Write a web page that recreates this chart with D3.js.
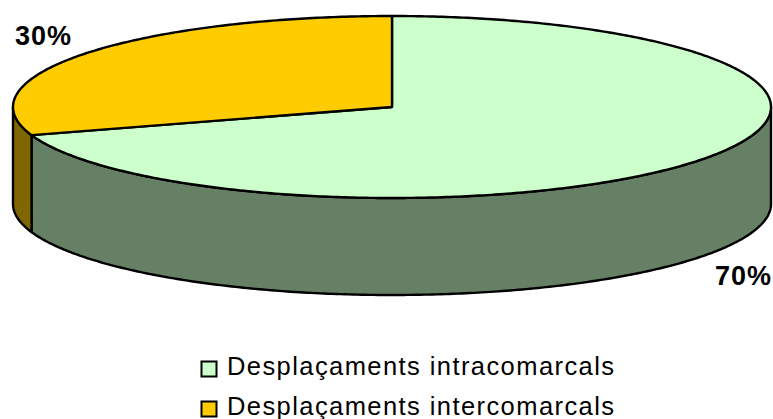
<!DOCTYPE html>
<html>
<head>
<meta charset="utf-8">
<script src="https://cdn.jsdelivr.net/npm/d3@7"></script>
<style>
  html, body { margin: 0; padding: 0; background: #fff; }
  svg { display: block; }
  text { font-family: "Liberation Sans", Arial, sans-serif; fill: #000; }
</style>
</head>
<body>
<div id="chart"></div>
<script>
// chart values
var categories = ["Desplaçaments intracomarcals", "Desplaçaments intercomarcals"];
var values = [70, 30];
var topColors = ["#ccffcc", "#ffcc00"];
var sideColors = ["#668066", "#806600"];

var w = 773;
var h = 419;

// ellipse of the pie top, and how far the wall drops
var cx = 392, cy = 107, rx = 379, ry = 91, depth = 97;

var svg = d3.select("#chart").append("svg")
    .attr("width", w)
    .attr("height", h);

// slices run clockwise from 12 o'clock
var slices = d3.pie().sort(null).value(function (d) { return d; })(values);

// flatten a pie angle onto the tilted ellipse
var xPos = d3.scaleLinear().domain([-1, 1]).range([cx - rx, cx + rx]);
var yPos = d3.scaleLinear().domain([-1, 1]).range([cy - ry, cy + ry]);
function px(a) { return xPos(Math.sin(a)); }
function py(a, drop) { return yPos(-Math.cos(a)) + (drop || 0); }

var line = d3.line();

function rim(a0, a1, drop) {
    var n = Math.max(2, Math.ceil((a1 - a0) * 90));
    return d3.range(n + 1).map(function (i) {
        var a = a0 + (a1 - a0) * i / n;
        return [px(a), py(a, drop)];
    });
}

// walls: only the front half of the ellipse shows (90 to 270 degrees)
var wallStart = Math.PI / 2, wallEnd = Math.PI * 1.5;
slices.forEach(function (s, i) {
    var a0 = Math.max(s.startAngle, wallStart);
    var a1 = Math.min(s.endAngle, wallEnd);
    if (a1 <= a0) return;
    var pts = rim(a0, a1, 0).concat(rim(a0, a1, depth).reverse());
    svg.append("path")
        .attr("d", line(pts) + "Z")
        .attr("fill", sideColors[i])
        .attr("stroke", "#000")
        .attr("stroke-width", 2.4)
        .attr("stroke-linejoin", "round");
});

// top faces
slices.forEach(function (s, i) {
    var pts = [[cx, cy]].concat(rim(s.startAngle, s.endAngle, 0));
    svg.append("path")
        .attr("d", line(pts) + "Z")
        .attr("fill", topColors[i])
        .attr("stroke", "#000")
        .attr("stroke-width", 2.4)
        .attr("stroke-linejoin", "round");
});

// percentage labels
svg.append("text")
    .attr("x", 15).attr("y", 45)
    .attr("font-size", 27).attr("font-weight", "bold")
    .attr("textLength", 56)
    .text(values[1] + "%");
svg.append("text")
    .attr("x", 715).attr("y", 285)
    .attr("font-size", 27).attr("font-weight", "bold")
    .attr("textLength", 56)
    .text(values[0] + "%");

// legend
var legendY = d3.scaleBand().domain(categories).range([347, 427]);
var legend = svg.selectAll("g.legend")
    .data(categories)
    .enter().append("g")
    .attr("class", "legend")
    .attr("transform", function (d) { return "translate(0," + legendY(d) + ")"; });

legend.append("rect")
    .attr("x", 201.5).attr("y", 14.5)
    .attr("width", 15).attr("height", 15)
    .attr("fill", function (d, i) { return topColors[i]; })
    .attr("stroke", "#000")
    .attr("stroke-width", 2);

legend.append("text")
    .attr("x", 227).attr("y", 28)
    .attr("font-size", 25.5)
    .attr("textLength", 387)
    .attr("lengthAdjust", "spacing")
    .text(function (d) { return d; });
</script>
</body>
</html>
